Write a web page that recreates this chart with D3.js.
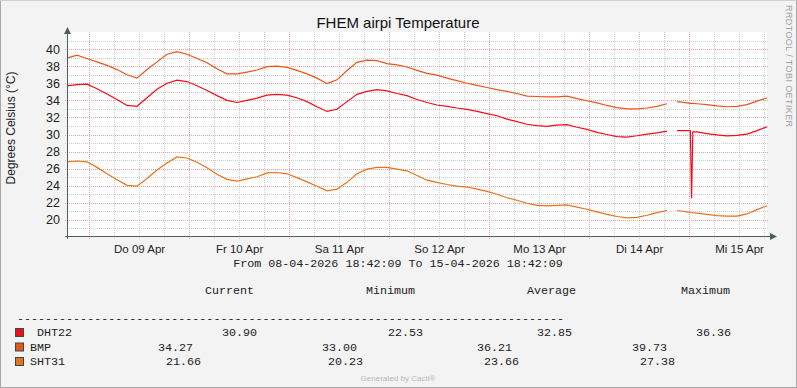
<!DOCTYPE html>
<html>
<head>
<meta charset="utf-8">
<script src="https://cdn.jsdelivr.net/npm/d3@7"></script>
<style>
  body { margin: 0; background: #ffffff; }
  svg { display: block; }
  text { font-family: "Liberation Sans", Arial, sans-serif; }
  .mono { font-family: "Liberation Mono", "Courier New", monospace; }
</style>
</head>
<body>
<svg id="chart" width="797" height="388"></svg>
<script>
// Hours after 08-04-2026 18:42:09, one sample list shared by all series (null = no data)
var hours = [0, 2.4, 4.8, 7.2, 9.6, 12, 14.4, 16.8, 19.2, 21.6,
  24, 26.4, 28.8, 31.2, 33.6, 36, 38.4, 40.8, 43.2, 45.6,
  48, 50.4, 52.8, 55.2, 57.6, 60, 62.4, 64.8, 67.2, 69.6,
  72, 74.4, 76.8, 79.2, 81.6, 84, 86.4, 88.8, 91.2, 93.6,
  96, 98.4, 100.8, 103.2, 105.6, 108, 110.4, 112.8, 115.2, 117.6,
  120, 122.4, 124.8, 127.2, 129.6, 132, 134.4, 136.8, 139.2, 141.6, 144,
  145.2,
  146.4, 148.8,
  149.6, 149.9, 150.2,
  151.2, 153.6, 156, 158.4, 160.8, 163.2, 165.6, 168];

var dht22 = [35.7, 35.85, 35.9, 35.35, 34.75, 34.1, 33.4, 33.3, 34.3, 35.3,
  36.0, 36.36, 36.2, 35.7, 35.15, 34.55, 34.0, 33.75, 34.0, 34.25,
  34.6, 34.7, 34.6, 34.3, 33.85, 33.25, 32.7, 32.95, 33.85, 34.7,
  35.05, 35.25, 35.1, 34.8, 34.55, 34.1, 33.75, 33.45, 33.3, 33.1,
  32.95, 32.7, 32.45, 32.2, 31.8, 31.5, 31.2, 31.05, 30.95, 31.1,
  31.15, 30.85, 30.6, 30.25, 30.0, 29.75, 29.7, 29.85, 30.05, 30.2, 30.4,
  null,
  30.45, 30.45,
  30.45, 22.53, 30.3,
  30.3, 30.1, 29.95, 29.85, 29.9, 30.05, 30.45, 30.9];

var bmp = [38.95, 39.3, 38.9, 38.5, 38.1, 37.6, 37.0, 36.6, 37.6, 38.5,
  39.4, 39.7, 39.4, 38.9, 38.4, 37.7, 37.1, 37.1, 37.3, 37.55,
  37.95, 38.0, 37.85, 37.5, 37.1, 36.6, 35.95, 36.4, 37.5, 38.45,
  38.7, 38.65, 38.3, 38.15, 37.9, 37.5, 37.15, 36.95, 36.6, 36.3,
  36.0, 35.75, 35.5, 35.25, 35.05, 34.8, 34.5, 34.45, 34.4, 34.4,
  34.5, 34.2, 33.95, 33.7, 33.4, 33.15, 33.0, 33.0, 33.1, 33.3, 33.6,
  null,
  33.85, 33.7,
  33.65, 33.65, 33.65,
  33.6, 33.5, 33.35, 33.25, 33.3, 33.5, 33.9, 34.27];

var sht31 = [26.8, 26.9, 26.8, 26.15, 25.4, 24.7, 24.05, 23.95, 24.85, 25.85,
  26.65, 27.38, 27.25, 26.75, 26.1, 25.35, 24.75, 24.55, 24.8, 25.05,
  25.5, 25.55, 25.4, 24.95, 24.45, 23.95, 23.4, 23.6, 24.4, 25.4,
  25.95, 26.15, 26.15, 25.95, 25.75, 25.2, 24.65, 24.4, 24.15, 23.95,
  23.85, 23.6, 23.35, 23.0, 22.6, 22.3, 21.95, 21.7, 21.65, 21.7,
  21.75, 21.5, 21.25, 20.95, 20.65, 20.4, 20.25, 20.3, 20.55, 20.85, 21.1,
  null,
  21.1, 20.95,
  20.9, 20.9, 20.85,
  20.8, 20.65, 20.5, 20.45, 20.45, 20.7, 21.2, 21.66];

var seriesNames = ["DHT22", "BMP", "SHT31"];
var seriesColors = ["#f50c1a", "#ea5418", "#e8721a"];
var yTicks = [20, 22, 24, 26, 28, 30, 32, 34, 36, 38, 40];
var dayLabels = ["Do 09 Apr", "Fr 10 Apr", "Sa 11 Apr", "So 12 Apr", "Mo 13 Apr", "Di 14 Apr", "Mi 15 Apr"];

// legend statistics
var statHeaders = ["Current", "Minimum", "Average", "Maximum"];
var current = ["30.90", "34.27", "21.66"];
var minimum = ["22.53", "33.00", "20.23"];
var average = ["32.85", "36.21", "23.66"];
var maximum = ["36.36", "39.73", "27.38"];

var start = new Date(2026, 3, 8, 18, 42, 9);
var end = new Date(2026, 3, 15, 18, 42, 9);

var W = 797, H = 388;
var plotL = 67, plotR = 767, plotT = 32, plotB = 237;

var svg = d3.select("#chart");

// background and frame
svg.append("rect").attr("x", 0).attr("y", 0).attr("width", W).attr("height", H).attr("fill", "#f3f3f3");
svg.append("rect").attr("x", 0.5).attr("y", 0.5).attr("width", W - 1).attr("height", H - 1)
  .attr("fill", "none").attr("stroke", "#a8a8a8");
svg.append("line").attr("x1", 0).attr("x2", W).attr("y1", 0.5).attr("y2", 0.5).attr("stroke", "#d0d0d0");

// plot canvas
svg.append("rect").attr("x", plotL).attr("y", plotT).attr("width", plotR - plotL).attr("height", plotB - plotT)
  .attr("fill", "#ffffff");

var x = d3.scaleTime().domain([start, end]).range([plotL, plotR]);
var y = d3.scaleLinear().domain([18, 42]).range([plotB, plotT]);

var times = hours.map(function(h) { return new Date(start.getTime() + h * 3600000); });

// minor grid
var minorY = d3.range(19, 42, 2);
svg.append("g").selectAll("line").data(minorY).enter().append("line")
  .attr("x1", plotL - 2).attr("x2", plotR + 2)
  .attr("y1", function(d) { return Math.round(y(d)) + 0.5; })
  .attr("y2", function(d) { return Math.round(y(d)) + 0.5; })
  .attr("stroke", "#cfcfcf").attr("stroke-dasharray", "1,1");

var minorX = d3.timeHour.every(6).range(start, end).filter(function(d) { return d.getHours() !== 0; });
svg.append("g").selectAll("line").data(minorX).enter().append("line")
  .attr("x1", function(d) { return Math.round(x(d)) + 0.5; })
  .attr("x2", function(d) { return Math.round(x(d)) + 0.5; })
  .attr("y1", plotT).attr("y2", plotB + 2)
  .attr("stroke", "#cfcfcf").attr("stroke-dasharray", "1,1");

// major grid
svg.append("g").selectAll("line").data(yTicks).enter().append("line")
  .attr("x1", plotL - 2).attr("x2", plotR + 2)
  .attr("y1", function(d) { return Math.round(y(d)) + 0.5; })
  .attr("y2", function(d) { return Math.round(y(d)) + 0.5; })
  .attr("stroke", "#eda3a3").attr("stroke-dasharray", "1,1");

var majorX = d3.timeDay.range(start, end);
svg.append("g").selectAll("line").data(majorX).enter().append("line")
  .attr("x1", function(d) { return Math.round(x(d)) + 0.5; })
  .attr("x2", function(d) { return Math.round(x(d)) + 0.5; })
  .attr("y1", plotT).attr("y2", plotB + 3)
  .attr("stroke", "#eda3a3").attr("stroke-dasharray", "1,1");

// axis labels
var yAxis = d3.axisLeft(y).tickValues(yTicks).tickSize(0).tickPadding(7);
var gy = svg.append("g").attr("transform", "translate(" + plotL + ",0)").call(yAxis);
gy.select(".domain").remove();
gy.selectAll("text").attr("font-family", "Liberation Sans, Arial, sans-serif")
  .attr("font-size", 12.5).attr("fill", "#222");

var noons = d3.timeHour.range(start, end).filter(function(d) { return d.getHours() === 12; });
var xAxis = d3.axisBottom(x).tickValues(noons).tickSize(0).tickPadding(8)
  .tickFormat(function(d, i) { return dayLabels[i]; });
var gx = svg.append("g").attr("transform", "translate(0," + plotB + ")").call(xAxis);
gx.select(".domain").remove();
gx.selectAll("text").attr("font-family", "Liberation Sans, Arial, sans-serif")
  .attr("font-size", 11.5).attr("fill", "#222");

// series lines
var line = d3.line()
  .defined(function(d) { return d[1] != null; })
  .x(function(d) { return x(d[0]); })
  .y(function(d) { return y(d[1]); });

var allSeries = [dht22, bmp, sht31];
// draw lowest first so the red one stays on top
[2, 1, 0].forEach(function(s) {
  var pts = times.map(function(t, i) { return [t, allSeries[s][i]]; });
  svg.append("path").datum(pts)
    .attr("fill", "none")
    .attr("stroke", seriesColors[s])
    .attr("stroke-width", 1.2)
    .attr("d", line);
});

// axis lines with arrows
var axisColor = "#4b5e5a";
svg.append("line").attr("x1", plotL + 0.5).attr("x2", plotL + 0.5).attr("y1", plotB + 2).attr("y2", 31)
  .attr("stroke", axisColor);
svg.append("path").attr("d", "M" + (plotL - 3) + ",34 L" + (plotL + 4) + ",34 L" + (plotL + 0.5) + ",27 Z")
  .attr("fill", axisColor);
svg.append("line").attr("x1", plotL - 2).attr("x2", plotR + 4).attr("y1", plotB - 0.5).attr("y2", plotB - 0.5)
  .attr("stroke", axisColor);
svg.append("path").attr("d", "M" + (plotR + 3) + "," + (plotB - 4) + " L" + (plotR + 3) + "," + (plotB + 3)
    + " L" + (plotR + 10) + "," + (plotB - 0.5) + " Z")
  .attr("fill", axisColor);

// title
svg.append("text").attr("x", 398).attr("y", 28).attr("text-anchor", "middle")
  .attr("font-size", 15).attr("fill", "#111").text("FHEM airpi Temperature");

// vertical label
svg.append("text").attr("transform", "translate(15,128) rotate(-90)").attr("text-anchor", "middle")
  .attr("font-size", 12).attr("fill", "#222").text("Degrees Celsius (\u00b0C)");

// watermark
svg.append("text").attr("transform", "translate(786,5) rotate(90)")
  .attr("font-size", 9).attr("fill", "#a0a0a0").attr("letter-spacing", 0.4)
  .text("RRDTOOL / TOBI OETIKER");

// time range
svg.append("text").attr("class", "mono").attr("x", 398).attr("y", 267).attr("text-anchor", "middle")
  .attr("font-size", 11.7).attr("fill", "#222")
  .text("From 08-04-2026 18:42:09 To 15-04-2026 18:42:09");

// legend header
var headerX = [205, 366, 527, 681];
svg.selectAll(".hdr").data(statHeaders).enter().append("text")
  .attr("class", "mono hdr").attr("x", function(d, i) { return headerX[i]; }).attr("y", 294)
  .attr("font-size", 11.7).attr("fill", "#222").text(function(d) { return d; });

svg.append("text").attr("class", "mono").attr("x", 17).attr("y", 322)
  .attr("font-size", 11.7).attr("fill", "#222").text(d3.range(78).map(function() { return "-"; }).join(""));

// legend rows
var rowY = [336, 350.5, 365];
var nameX = [37, 30, 30];
var statX = [[222, 388, 537, 696], [158, 322, 477, 632], [166, 328, 484, 640]];
seriesNames.forEach(function(name, i) {
  svg.append("rect").attr("x", 15.5).attr("y", rowY[i] - 7.5).attr("width", 8).attr("height", 8)
    .attr("fill", seriesColors[i]).attr("stroke", "#2f4f4f");
  svg.append("text").attr("class", "mono").attr("x", nameX[i]).attr("y", rowY[i])
    .attr("font-size", 11.7).attr("fill", "#222").text(name);
  [current, minimum, average, maximum].forEach(function(col, j) {
    svg.append("text").attr("class", "mono").attr("x", statX[i][j]).attr("y", rowY[i])
      .attr("font-size", 11.7).attr("fill", "#222").text(col[i]);
  });
});

svg.append("text").attr("x", 398).attr("y", 381).attr("text-anchor", "middle")
  .attr("font-size", 8).attr("fill", "#b8b8b8").text("Generated by Cacti\u00ae");
</script>
</body>
</html>
